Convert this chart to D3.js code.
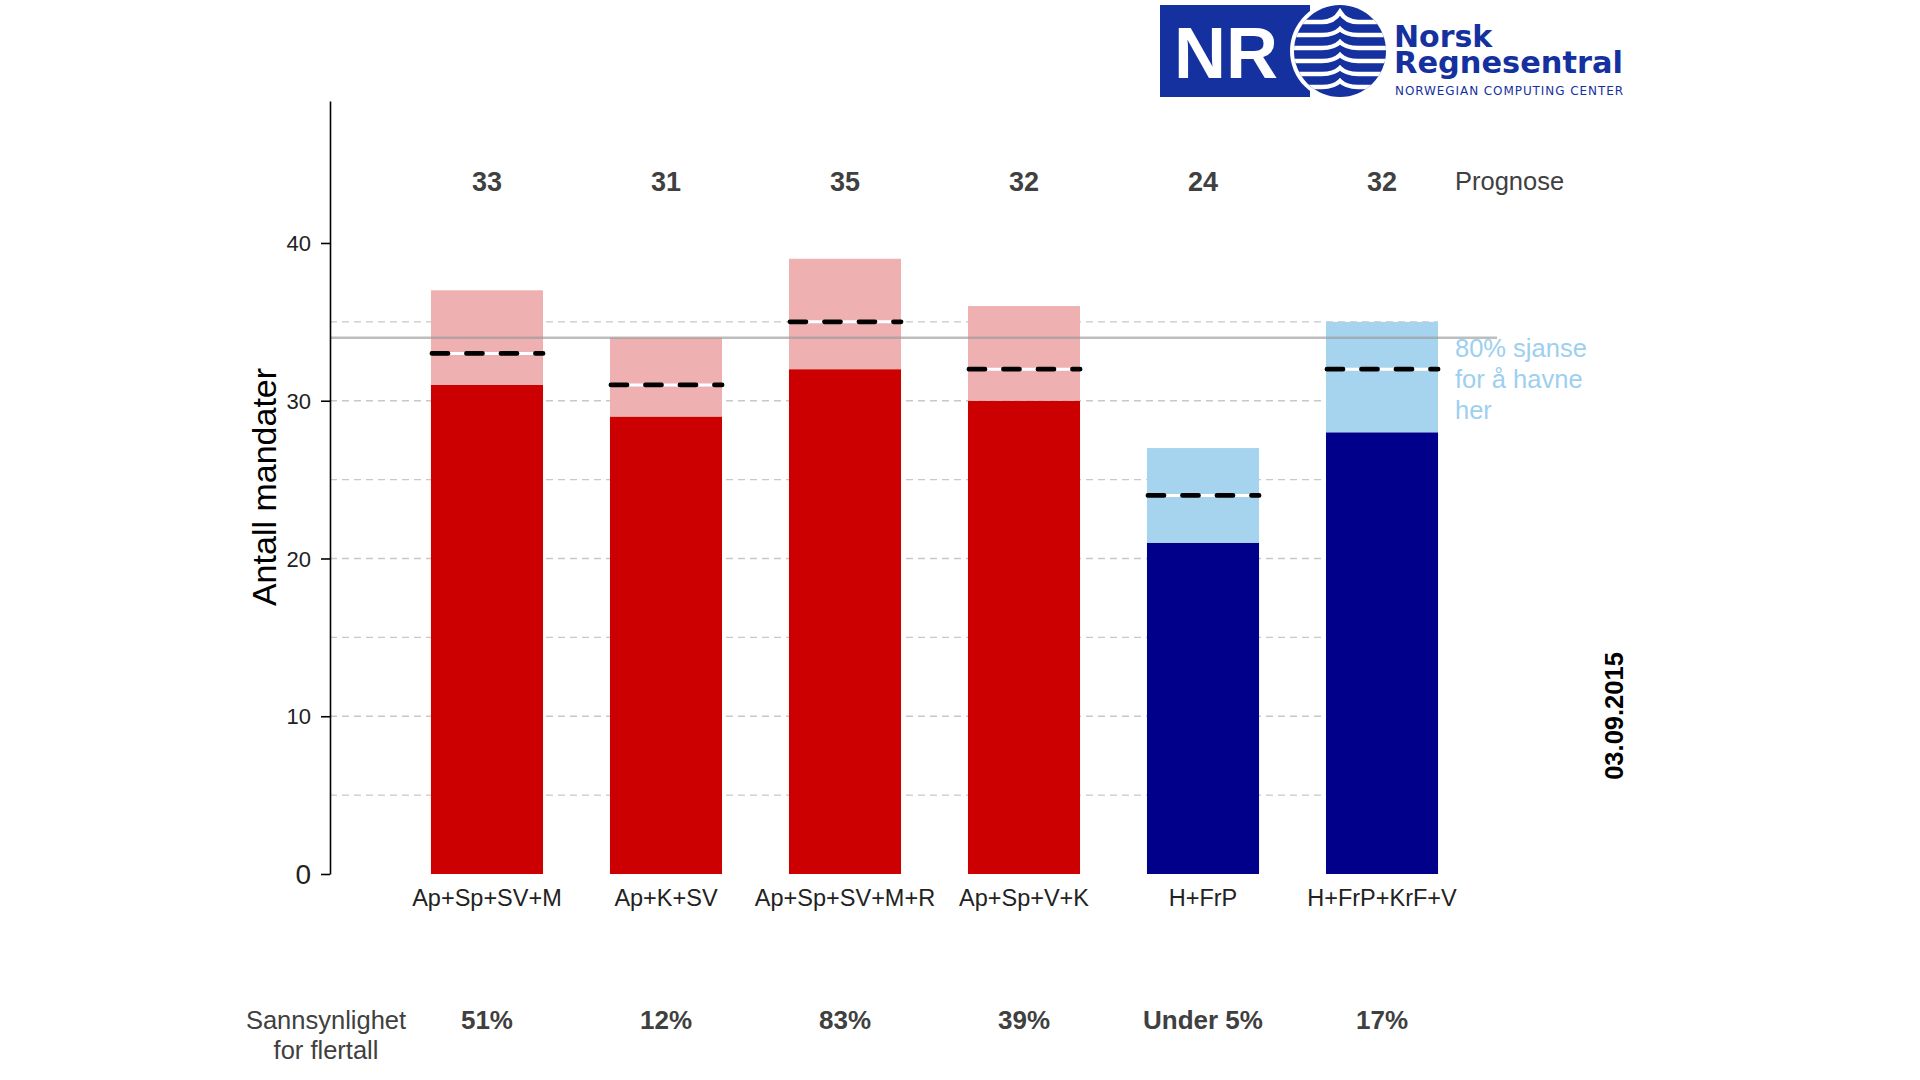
<!DOCTYPE html>
<html>
<head>
<meta charset="utf-8">
<script src="https://cdn.jsdelivr.net/npm/d3@7"></script>
<style>
  html, body { margin: 0; padding: 0; background: #fff; }
  svg { display: block; font-family: "Liberation Sans", Arial, sans-serif; }
</style>
</head>
<body>
<svg id="chart" width="1920" height="1080"></svg>
<script>
// ---- data ----
const categories = ["Ap+Sp+SV+M", "Ap+K+SV", "Ap+Sp+SV+M+R", "Ap+Sp+V+K", "H+FrP", "H+FrP+KrF+V"];
const lowerBound = [31, 29, 32, 30, 21, 28];
const upperBound = [37, 34, 39, 36, 27, 35];
const forecast   = [33, 31, 35, 32, 24, 32];
const probability = ["51%", "12%", "83%", "39%", "Under 5%", "17%"];
const bloc = ["red", "red", "red", "red", "blue", "blue"];
const yTicks = [0, 10, 20, 30, 40];
const gridValues = [5, 10, 15, 20, 25, 30, 35];
const majority = 34;
const yMax = 49;

const colors = {
  red:  { dark: "#CC0000", light: "#EEB0B1" },
  blue: { dark: "#00008B", light: "#A6D4EE" }
};

const data = categories.map((c, i) => ({
  cat: c, lo: lowerBound[i], hi: upperBound[i], fc: forecast[i], p: probability[i], bloc: bloc[i]
}));

const svg = d3.select("#chart");

const x = d3.scaleBand().domain(categories).range([330, 1539]).paddingInner(0.374).paddingOuter(0.564);
const y = d3.scaleLinear().domain([0, yMax]).range([874, 101]);

// gridlines
svg.append("g").selectAll("line").data(gridValues).join("line")
  .attr("x1", 330).attr("x2", x(categories[categories.length - 1]) + x.bandwidth())
  .attr("y1", d => y(d)).attr("y2", d => y(d))
  .attr("stroke", "#C8C8C8").attr("stroke-width", 1.3).attr("stroke-dasharray", "7,5");

// bars: dark part
const bars = svg.append("g");
bars.selectAll("rect.dark").data(data).join("rect").attr("class", "dark")
  .attr("x", d => x(d.cat)).attr("width", x.bandwidth())
  .attr("y", d => y(d.lo)).attr("height", d => y(0) - y(d.lo))
  .attr("fill", d => colors[d.bloc].dark);
// bars: 80% interval
bars.selectAll("rect.light").data(data).join("rect").attr("class", "light")
  .attr("x", d => x(d.cat)).attr("width", x.bandwidth())
  .attr("y", d => y(d.hi)).attr("height", d => y(d.lo) - y(d.hi))
  .attr("fill", d => colors[d.bloc].light);

// majority line
svg.append("line")
  .attr("x1", 330).attr("x2", 1497)
  .attr("y1", y(majority)).attr("y2", y(majority))
  .attr("stroke", "#9a9a9a").attr("stroke-opacity", 0.65).attr("stroke-width", 2.5);

// forecast dashed lines
const fcG = svg.append("g");
fcG.selectAll("line.bg").data(data).join("line").attr("class", "bg")
  .attr("x1", d => x(d.cat) + 1).attr("x2", d => x(d.cat) + x.bandwidth())
  .attr("y1", d => y(d.fc)).attr("y2", d => y(d.fc))
  .attr("stroke", "#fff").attr("stroke-width", 3);
fcG.selectAll("line.fg").data(data).join("line").attr("class", "fg")
  .attr("x1", d => x(d.cat) + 1).attr("x2", d => x(d.cat) + x.bandwidth())
  .attr("y1", d => y(d.fc)).attr("y2", d => y(d.fc))
  .attr("stroke", "#000").attr("stroke-width", 4.8)
  .attr("stroke-linecap", "round").attr("stroke-dasharray", "16,18.5");

// y axis
const yAxis = svg.append("g").attr("transform", "translate(330,0)")
  .call(d3.axisLeft(y).tickValues(yTicks).tickSize(9).tickSizeOuter(0).tickPadding(10));
yAxis.select(".domain").attr("stroke", "#000").attr("stroke-width", 1.6);
yAxis.selectAll(".tick line").attr("stroke", "#000").attr("stroke-width", 1.6);
yAxis.selectAll(".tick text")
  .attr("fill", "#222")
  .style("font-family", "'Liberation Sans', Arial, sans-serif")
  .style("font-size", d => d === 0 ? "28px" : "22px")
  .attr("dy", "0.35em");

// y axis title
svg.append("text")
  .attr("transform", "translate(276,487) rotate(-90)")
  .attr("text-anchor", "middle")
  .attr("fill", "#000")
  .style("font-size", "34px")
  .text("Antall mandater");

// category labels
svg.append("g").selectAll("text").data(data).join("text")
  .attr("x", d => x(d.cat) + x.bandwidth() / 2).attr("y", 906)
  .attr("text-anchor", "middle").attr("fill", "#222")
  .style("font-size", "23.5px")
  .text(d => d.cat);

// forecast numbers on top
svg.append("g").selectAll("text").data(data).join("text")
  .attr("x", d => x(d.cat) + x.bandwidth() / 2).attr("y", 191)
  .attr("text-anchor", "middle").attr("fill", "#404040")
  .style("font-size", "27px").style("font-weight", "bold")
  .text(d => d.fc);
svg.append("text").attr("x", 1455).attr("y", 190)
  .attr("fill", "#404040").style("font-size", "25.5px").text("Prognose");

// probability row
svg.append("g").selectAll("text").data(data).join("text")
  .attr("x", d => x(d.cat) + x.bandwidth() / 2).attr("y", 1029)
  .attr("text-anchor", "middle").attr("fill", "#404040")
  .style("font-size", "26px").style("font-weight", "bold")
  .text(d => d.p);
const pl = svg.append("text").attr("text-anchor", "middle").attr("fill", "#404040").style("font-size", "25.5px");
pl.append("tspan").attr("x", 326).attr("y", 1029).text("Sannsynlighet");
pl.append("tspan").attr("x", 326).attr("y", 1059).text("for flertall");

// 80% annotation
const ann = svg.append("text").attr("fill", "#9DCFEF").style("font-size", "25.5px");
["80% sjanse", "for å havne", "her"].forEach((t, i) => {
  ann.append("tspan").attr("x", 1455).attr("y", 357 + i * 31).text(t);
});

// date
svg.append("text")
  .attr("transform", "translate(1623,716) rotate(-90)")
  .attr("text-anchor", "middle").attr("fill", "#000")
  .style("font-size", "25.5px").style("font-weight", "bold")
  .text("03.09.2015");

// ---- logo ----
const logoBlue = "#15319F";
const logo = svg.append("g");
logo.append("rect").attr("x", 1160).attr("y", 5).attr("width", 150).attr("height", 92).attr("fill", logoBlue);
logo.append("circle").attr("cx", 1340).attr("cy", 51).attr("r", 50).attr("fill", "#fff");
logo.append("circle").attr("cx", 1340).attr("cy", 51).attr("r", 46).attr("fill", logoBlue);
logo.append("clipPath").attr("id", "logoclip").append("circle").attr("cx", 1340).attr("cy", 51).attr("r", 46);
const stripes = logo.append("g").attr("clip-path", "url(#logoclip)");
[22, 35, 48, 61, 74, 87].forEach((sy, i) => {
  const peak = i === 0 ? 10 : 6;
  stripes.append("path")
    .attr("d", `M1290,${sy} L1322,${sy} Q1334,${sy} 1340,${sy - peak} Q1346,${sy} 1358,${sy} L1392,${sy}`)
    .attr("fill", "none").attr("stroke", "#fff").attr("stroke-width", 4.5);
});
logo.append("text").attr("x", 1174).attr("y", 78)
  .attr("fill", "#fff").style("font-family", "'Liberation Sans', Arial, sans-serif")
  .style("font-size", "72px").style("font-weight", "bold").text("NR");
const brand = logo.append("text")
  .attr("fill", logoBlue).style("font-family", "'DejaVu Sans', Verdana, sans-serif")
  .style("font-size", "30px").style("font-weight", "bold");
brand.append("tspan").attr("x", 1394).attr("y", 47).text("Norsk");
brand.append("tspan").attr("x", 1394).attr("y", 73)
  .attr("textLength", 229).attr("lengthAdjust", "spacingAndGlyphs").text("Regnesentral");
logo.append("text").attr("x", 1395).attr("y", 95)
  .attr("fill", logoBlue).style("font-family", "'DejaVu Sans', Verdana, sans-serif")
  .style("font-size", "12px")
  .attr("textLength", 228).attr("lengthAdjust", "spacing").text("NORWEGIAN COMPUTING CENTER");
</script>
</body>
</html>
